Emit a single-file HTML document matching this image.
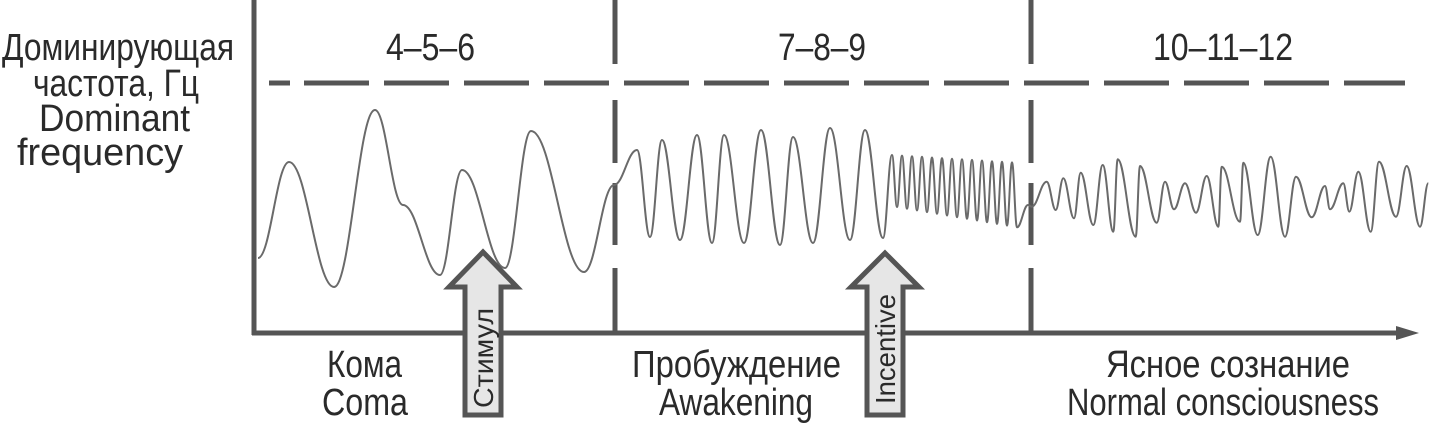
<!DOCTYPE html>
<html><head><meta charset="utf-8"><style>
html,body{margin:0;padding:0;background:#fff;}
svg{display:block;}
text{font-family:"Liberation Sans","DejaVu Sans",sans-serif;fill:#2a2a2a;}
</style></head><body>
<svg id="s" width="1432" height="426" viewBox="0 0 1432 426" xmlns="http://www.w3.org/2000/svg">
<g stroke="#555" stroke-width="5" fill="none">
<line x1="254" y1="0" x2="254" y2="335"/>
<line x1="252" y1="333" x2="1400" y2="333"/>
<line x1="269" y1="83" x2="1405" y2="83" stroke-dasharray="21 14 65 15 65 15 65 15 65 15 65 15 65 15 65 15 65 15 65 15 65 15 65 15 65 15 65 15 65 15 65 15 65 15 65 15 65 15"/>
<line x1="615" y1="0" x2="615" y2="333" stroke-dasharray="64 36 63 20 62 23 65"/>
<line x1="1031" y1="0" x2="1031" y2="333" stroke-dasharray="64 36 63 20 62 23 65"/>
</g>
<polygon points="1396,326 1419,333 1396,340" fill="#555"/>
<path id="w" d="" stroke="#6a6a6a" stroke-width="2" fill="none"/>
<g stroke="#555" stroke-width="5" fill="#e6e6e6" stroke-linejoin="miter">
<polygon points="465,415 501,415 501,287 517,287 483,252 449,287 465,287"/>
<polygon points="867,415 903,415 903,287 919,287 885,253 851,287 867,287"/>
</g>
<text x="2" y="60" font-size="38" textLength="232" lengthAdjust="spacingAndGlyphs">Доминирующая</text>
<text x="33" y="96" font-size="38" textLength="166" lengthAdjust="spacingAndGlyphs">частота,  Гц</text>
<text x="39" y="131" font-size="38" textLength="151" lengthAdjust="spacingAndGlyphs">Dominant</text>
<text x="17" y="165" font-size="38" textLength="166" lengthAdjust="spacingAndGlyphs">frequency</text>
<text x="386" y="60" font-size="38" textLength="89" lengthAdjust="spacingAndGlyphs">4–5–6</text>
<text x="778" y="60" font-size="38" textLength="88" lengthAdjust="spacingAndGlyphs">7–8–9</text>
<text x="1153" y="60" font-size="38" textLength="140" lengthAdjust="spacingAndGlyphs">10–11–12</text>
<text x="327" y="377" font-size="38" textLength="75" lengthAdjust="spacingAndGlyphs">Кома</text>
<text x="322" y="415" font-size="38" textLength="86" lengthAdjust="spacingAndGlyphs">Coma</text>
<text x="632" y="377" font-size="38" textLength="209" lengthAdjust="spacingAndGlyphs">Пробуждение</text>
<text x="659" y="415" font-size="38" textLength="154" lengthAdjust="spacingAndGlyphs">Awakening</text>
<text x="1106" y="377" font-size="38" textLength="244" lengthAdjust="spacingAndGlyphs">Ясное  сознание</text>
<text x="1067" y="415" font-size="38" textLength="312" lengthAdjust="spacingAndGlyphs">Normal  consciousness</text>
<text transform="translate(493,408) rotate(-90)" font-size="28" textLength="100" lengthAdjust="spacingAndGlyphs">Стимул</text>
<text transform="translate(895,404) rotate(-90)" font-size="28" textLength="110" lengthAdjust="spacingAndGlyphs">Incentive</text>
</svg>
<script>
var pts=[[258,258],[289,162],[334,287],[375,110],[403,205],[440,275],[462,170],[505,268],[531,131],[584,272],[614,185],
[637,150],[650,237],[662,140],[680,240],[697,135],[712,243],[724,135],[744,243],[761,130],[780,245],[793,137],[813,243],[830,128],[850,240],[865,130],[883,238]];
var x=892;
while(x<1022){var t=(x-892)/130;pts.push([x,155+t*8]);pts.push([x+5,207+t*22]);x+=10;}
pts.push([1028,205]);
var n=[[35,230],[80,155],[107,240],[130,145],[162,265],[182,128],[220,285],[248,105],[280,305],[293,88],[347,320],[360,108],[410,278],[435,155],[462,238],[495,160],[528,248],[560,138],[595,290],[605,110],[660,275],[670,98],[713,315],[752,80],[795,320],[828,140],[875,262],[915,168],[930,238],[970,160],[988,245],[1015,125],[1052,305],[1077,95],[1128,260],[1160,108],[1200,290],[1225,160]];
n.forEach(function(p){pts.push([1020+p[0]/3,130+p[1]/3]);});
var d="M"+pts[0][0]+","+pts[0][1];
for(var k=1;k<pts.length;k++){var a=pts[k-1],b=pts[k],dx=b[0]-a[0];
d+=" C"+(a[0]+dx*0.4).toFixed(1)+","+a[1]+" "+(b[0]-dx*0.4).toFixed(1)+","+b[1]+" "+b[0].toFixed(1)+","+b[1].toFixed(1);}
document.getElementById("w").setAttribute("d",d);
</script>
</body></html>
